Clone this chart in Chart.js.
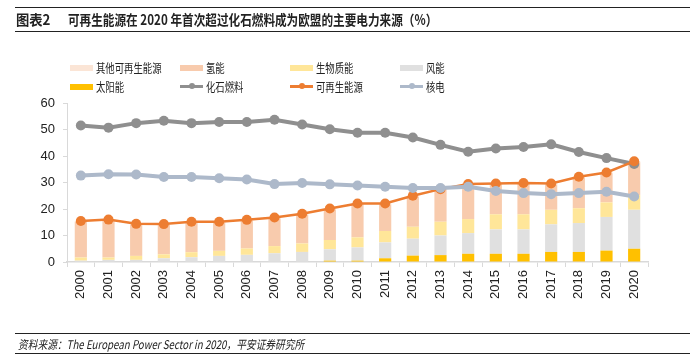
<!DOCTYPE html>
<html>
<head>
<meta charset="utf-8">
<script src="https://cdn.jsdelivr.net/npm/chart.js@4/dist/chart.umd.min.js"></script>
<style>
  body { margin: 0; background: #fff; }
  #wrap { position: relative; width: 696px; height: 363px; overflow: hidden; font-family: "Noto Sans CJK SC", "Liberation Sans", sans-serif; }
  #chart { position: absolute; left: 0; top: 0; }
  .title { position: absolute; left: 15px; top: 7px; width: 675px; height: 23px; border-top: 1px solid #222; border-bottom: 1.5px solid #222; font-weight: bold; font-size: 14px; color: #222; line-height: 23px; }
  .title span { position: absolute; white-space: nowrap; transform-origin: left center; transform: scaleX(0.83); }
  .title span.num { left: 1px; transform: scaleX(0.95); }
  .title span.txt { left: 53px; }
  .foot { position: absolute; left: 15px; top: 333px; width: 675px; height: 19px; border-top: 1px solid #222; border-bottom: 1px solid #222; font-size: 12px; font-style: italic; color: #222; line-height: 19px; }
  .foot span { position: absolute; left: 3px; white-space: nowrap; transform-origin: left center; transform: scaleX(0.81); }
  .leg { position: absolute; font-size: 12px; color: #222; line-height: 16px; white-space: nowrap; }
  .leg i { position: absolute; left: 0; top: 5px; width: 23px; height: 6px; }
  .leg b { position: absolute; left: 0; top: 6px; width: 23px; height: 3px; }
  .leg b::after { content: ""; position: absolute; left: 9px; top: -2px; width: 6px; height: 6px; border-radius: 50%; background: inherit; }
  .leg span { position: absolute; left: 26px; top: 0; transform-origin: left center; transform: scaleX(0.78); }
</style>
</head>
<body>
<div id="wrap">
  <canvas id="chart" width="696" height="363"></canvas>
  <div class="title"><span class="num">图表2</span><span class="txt">可再生能源在 2020 年首次超过化石燃料成为欧盟的主要电力来源（%）</span></div>
  <div id="legend"></div>
  <div class="foot"><span>资料来源：The European Power Sector in 2020，平安证券研究所</span></div>
</div>
<script>
const years = ['2000','2001','2002','2003','2004','2005','2006','2007','2008','2009','2010',
               '2011','2012','2013','2014','2015','2016','2017','2018','2019','2020'];

// stacked bars (%)
const otherRenew = [0.3,0.3,0.3,0.3,0.3,0.3,0.3,0.3,0.3,0.3,0.3,0.3,0.3,0.3,0.3,0.3,0.3,0.3,0.3,0.3,0.3];
const hydro      = [13.5,14.0,11.8,11.1,11.2,10.7,10.5,10.5,10.9,11.6,12.5,10.1,11.4,12.0,13.2,11.4,11.5,9.6,11.6,11.0,12.4];
const biomass    = [1.2,0.9,1.5,1.5,1.9,1.9,2.4,2.7,3.2,3.5,3.8,4.3,4.5,5.2,5.3,5.7,5.7,5.5,5.6,5.5,5.6];
const wind       = [0.5,0.8,0.8,1.4,1.8,2.3,2.7,3.3,3.8,4.3,5.0,6.0,6.4,7.4,7.8,9.2,9.2,10.4,10.9,12.7,14.7];
const solar      = [0,0,0,0,0,0,0,0,0,0.5,0.5,1.4,2.4,2.6,3.1,3.1,3.1,3.8,3.8,4.3,5.0];

// lines (%)
const fossil     = [51.5,50.7,52.4,53.3,52.4,52.8,52.8,53.7,51.9,50.1,48.8,48.8,47.0,44.2,41.6,42.8,43.4,44.4,41.5,39.2,37.0];
const renewables = [15.5,16.0,14.4,14.3,15.2,15.2,15.9,16.8,18.2,20.2,22.1,22.1,25.0,27.5,29.4,29.6,29.8,29.6,32.2,33.8,38.0];
const nuclear    = [32.6,33.1,33.0,32.1,32.1,31.6,31.1,29.4,29.8,29.3,28.9,28.4,27.9,27.9,28.4,26.8,26.0,25.6,26.0,26.5,24.7];

const yTicks = [0, 10, 20, 30, 40, 50, 60];

const bar = (label, data, color) => ({
    type: 'bar', label, data, backgroundColor: color, stack: 'bars', order: 10,
    barPercentage: 0.44, categoryPercentage: 1, borderWidth: 0
});
const line = (label, data, color, width, order) => ({
    type: 'line', label, data, borderColor: color, backgroundColor: color, stack: label, order,
    borderWidth: width, pointRadius: 5, pointHoverRadius: 5, pointBorderWidth: 0, tension: 0, fill: false
});

const datasets = [
    bar('太阳能', solar, '#FFC000'),
    bar('风能', wind, '#E0E0E0'),
    bar('生物质能', biomass, '#FFE699'),
    bar('氢能', hydro, '#F8CBAD'),
    bar('其他可再生能源', otherRenew, '#FBE5D6'),
    line('化石燃料', fossil, '#8F8F8F', 4, 3),
    line('可再生能源', renewables, '#ED7D31', 2.5, 2),
    line('核电', nuclear, '#ADB9CA', 4, 1)
];

// legend in 4 columns, same order as the original
const legendOrder = ['其他可再生能源','氢能','生物质能','风能','太阳能','化石燃料','可再生能源','核电'];
const legendEl = document.getElementById('legend');
legendOrder.forEach((name, i) => {
    const ds = datasets.find(d => d.label === name);
    const item = document.createElement('div');
    item.className = 'leg';
    item.style.left = (70 + (i % 4) * 110) + 'px';
    item.style.top = (60 + Math.floor(i / 4) * 19) + 'px';
    const mark = document.createElement(ds.type === 'bar' ? 'i' : 'b');
    mark.style.background = ds.type === 'bar' ? ds.backgroundColor : ds.borderColor;
    const txt = document.createElement('span');
    txt.textContent = name;
    item.appendChild(mark);
    item.appendChild(txt);
    legendEl.appendChild(item);
});

const axisColor = '#D9D9D9';

new Chart(document.getElementById('chart'), {
    data: { labels: years, datasets },
    options: {
        responsive: false,
        animation: false,
        layout: { padding: { left: 0, right: 48, top: 103, bottom: 56 } },
        plugins: { legend: { display: false }, tooltip: { enabled: false } },
        scales: {
            x: {
                stacked: true,
                offset: true,
                afterFit: s => { s.height = 45; },
                border: { color: axisColor, width: 1.5 },
                grid: { display: true, offset: true, drawOnChartArea: false, tickLength: 5, color: axisColor, tickWidth: 1 },
                ticks: {
                    minRotation: 90, maxRotation: 90, autoSkip: false, padding: 3,
                    color: '#222', font: { family: 'Liberation Sans', size: 13 }
                }
            },
            y: {
                stacked: true,
                min: 0, max: 60,
                afterFit: s => { s.width = 67; },
                afterBuildTicks: s => { s.ticks = yTicks.map(v => ({ value: v })); },
                border: { color: axisColor, width: 1 },
                grid: { display: true, drawOnChartArea: false, tickLength: 4, color: axisColor },
                ticks: { padding: 8, color: '#222', font: { family: 'Liberation Sans', size: 13 } }
            }
        }
    }
});
</script>
</body>
</html>
